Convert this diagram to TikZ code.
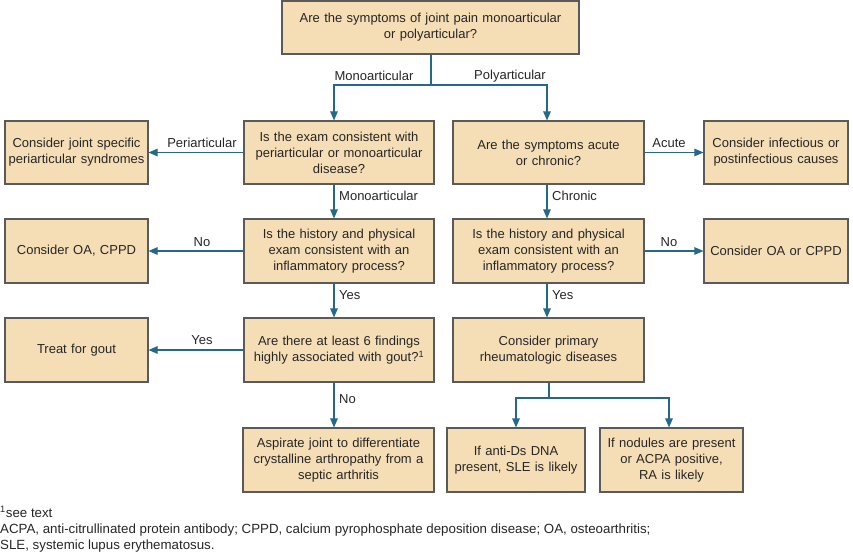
\documentclass[tikz,border=0pt]{standalone}
\usepackage{fontspec}
\setmainfont{Liberation Sans}
\usetikzlibrary{arrows.meta,positioning}
\definecolor{boxfill}{HTML}{F5DEB6}
\definecolor{boxline}{HTML}{5A5A5A}
\definecolor{conn}{HTML}{24698A}
\tikzset{
  box/.style={draw=boxline, line width=1.1pt, fill=boxfill, align=center, inner sep=2pt,
    font=\fontsize{13}{16}\selectfont, text=black!85},
  conn/.style={draw=conn, line width=1.1pt},
  arr/.style={conn, -{Triangle[length=9pt,width=7.5pt]}},
  lab/.style={font=\fontsize{13}{16}\selectfont, text=black!85, inner sep=0pt},
  foot/.style={font=\fontsize{13.3}{16}\selectfont, text=black!85, inner sep=0pt, anchor=base west},
}
\newcommand{\bx}[6]{% name, x, y, w, h, text
  \node[box, minimum width=#4pt, minimum height=#5pt, text width=#4pt-4pt] (#1) at (#2,#3) {#6};}
\begin{document}
\begin{tikzpicture}[x=1pt,y=-1pt]
\useasboundingbox (0,0) rectangle (853,552);
\bx{top}{430.5}{27.5}{297}{53}{Are the symptoms of joint pain monoarticular\\or polyarticular?}
\bx{qa}{339}{152.5}{190}{63}{Is the exam consistent with\\periarticular or monoarticular\\disease?}
\bx{pa}{76.5}{152.5}{143}{63}{Consider joint specific\\periarticular syndromes}
\bx{qb}{548.5}{152.5}{191}{63}{Are the symptoms acute\\or chronic?}
\bx{inf}{776}{152.5}{144}{63}{Consider infectious or\\postinfectious causes}
\bx{qc}{339}{251}{190}{64}{Is the history and physical\\exam consistent with an\\inflammatory process?}
\bx{oal}{76.5}{251}{143}{64}{Consider OA, CPPD}
\bx{qd}{548.5}{251}{191}{64}{Is the history and physical\\exam consistent with an\\inflammatory process?}
\bx{oar}{776}{251}{144}{64}{Consider OA or CPPD}
\bx{qe}{339}{350}{190}{64}{Are there at least 6 findings\\highly associated with gout?\textsuperscript{1}}
\bx{gout}{76.5}{350}{143}{64}{Treat for gout}
\bx{prim}{548.5}{350}{191}{64}{Consider primary\\rheumatologic diseases}
\bx{asp}{338.5}{460}{191}{64}{Aspirate joint to differentiate\\crystalline arthropathy from a\\septic arthritis}
\bx{sle}{516}{460}{138}{64}{If anti-Ds DNA\\present, SLE is likely}
\bx{ra}{671.5}{460}{143}{64}{If nodules are present\\or ACPA positive,\\RA is likely}
% column guides
\coordinate (lx) at (334,0);
\coordinate (rx) at (547,0);
% top split
\coordinate (split) at (431,85);
\draw[conn] (top.south -| split) -- (split);
\draw[arr] (split) -| (qa.north -| lx);
\draw[arr] (split) -| (qb.north -| rx);
\node[lab] at (374,76) {Monoarticular};
\node[lab] at (510,76) {Polyarticular};
% left column
\draw[arr] (qa.west) -- (pa.east);
\node[lab] at (202,143) {Periarticular};
\draw[arr] (qa.south -| lx) -- (qc.north -| lx);
\node[lab, anchor=west] at (339,196) {Monoarticular};
\draw[arr] (qc.west) -- (oal.east);
\node[lab] at (202,242) {No};
\draw[arr] (qc.south -| lx) -- (qe.north -| lx);
\node[lab, anchor=west] at (339,295) {Yes};
\draw[arr] (qe.west) -- (gout.east);
\node[lab] at (202,340) {Yes};
\draw[arr] (qe.south -| lx) -- (asp.north -| lx);
\node[lab, anchor=west] at (339,399) {No};
% right column
\draw[arr] (qb.east) -- (inf.west);
\node[lab] at (669,143) {Acute};
\draw[arr] (qb.south -| rx) -- (qd.north -| rx);
\node[lab, anchor=west] at (552,196) {Chronic};
\draw[arr] (qd.east) -- (oar.west);
\node[lab] at (669,242) {No};
\draw[arr] (qd.south -| rx) -- (prim.north -| rx);
\node[lab, anchor=west] at (552,295) {Yes};
% bottom split
\coordinate (split2) at (549,398);
\coordinate (rax) at (669,0);
\draw[conn] (prim.south -| split2) -- (split2);
\draw[arr] (split2) -| (sle.north);
\draw[arr] (split2) -| (ra.north -| rax);
% footnote
\node[foot] (fn1) at (0,517.5) {\textsuperscript{1}see text};
\node[foot] (fn2) at (0,533.5) {ACPA, anti-citrullinated protein antibody; CPPD, calcium pyrophosphate deposition disease; OA, osteoarthritis;};
\node[foot] (fn3) at (0,549) {SLE, systemic lupus erythematosus.};
\end{tikzpicture}
\end{document}
